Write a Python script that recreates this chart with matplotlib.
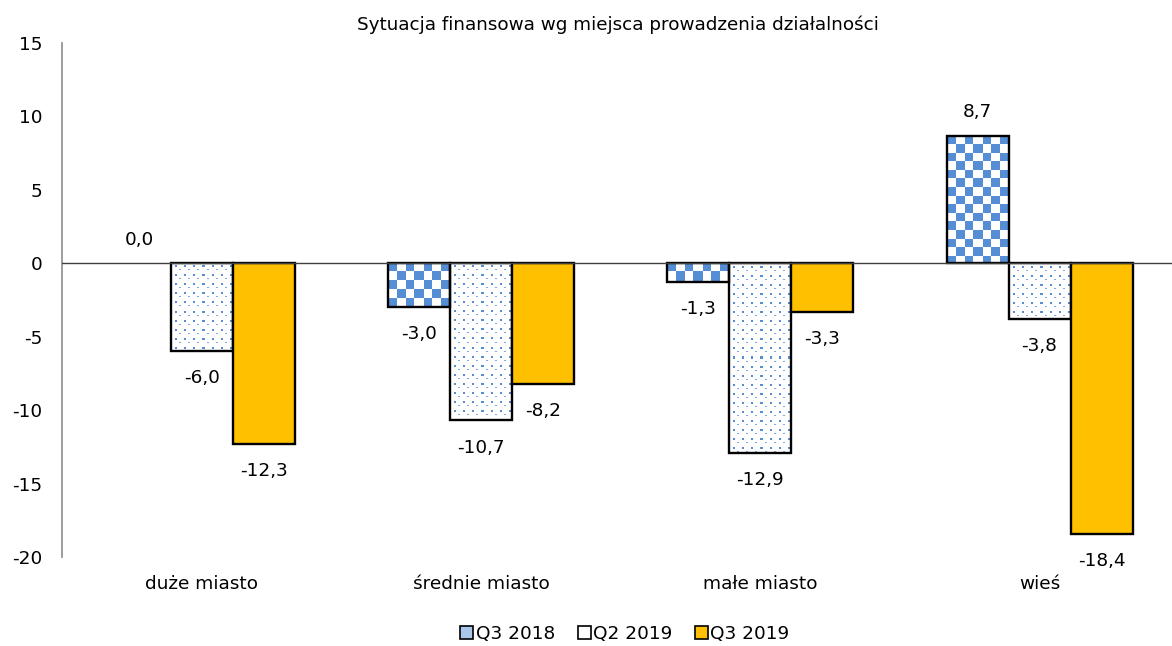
import numpy as np
import matplotlib
matplotlib.use('Agg')
import matplotlib.pyplot as plt
from matplotlib.patches import Patch

title = 'Sytuacja finansowa wg miejsca prowadzenia działalności'
categories = ['duże miasto', 'średnie miasto', 'małe miasto', 'wieś']
series = ['Q3 2018', 'Q2 2019', 'Q3 2019']
q3_2018 = [0.0, -3.0, -1.3, 8.7]
q2_2019 = [-6.0, -10.7, -12.9, -3.8]
q3_2019 = [-12.3, -8.2, -3.3, -18.4]

BLUE = (0x55/255, 0x8e/255, 0xd5/255)
GOLD = '#FFC000'
FS = 13.3


def checker(h, w, cell=8.6):
    yy, xx = np.mgrid[0:h, 0:w]
    m = ((xx // cell).astype(int) + (yy // cell).astype(int)) % 2 == 0
    img = np.ones((h, w, 3))
    img[m] = BLUE
    return img


def dots(h, w, step=9):
    img = np.ones((h, w, 3))
    light = tuple(1 - 0.75 * (1 - c) for c in BLUE)
    for y in range(3, h - 1, step):
        for x in range(4, w - 1, step):
            img[y:y+2, x:x+2] = BLUE
    for y in range(3 + step // 2, h - 1, step):
        for x in range(4 + step // 2, w - 1, step):
            img[y:y+1, x:x+2] = light
    return img


def main():
    plt.rcParams['font.family'] = ['DejaVu Sans']
    plt.rcParams['axes.unicode_minus'] = False
    fig = plt.figure(figsize=(11.72, 6.46), dpi=100)
    ax = fig.add_axes([62/1172, 1 - 557/646, 1 - 62/1172, (557 - 43)/646])

    x = np.arange(len(categories))
    w = 0.222
    data = [q3_2018, q2_2019, q3_2019]
    ax.set_xlim(-0.5, -0.5 + 1110/279.3)
    ax.set_ylim(-20, 15)

    fig.canvas.draw()
    for i, vals in enumerate(data):
        lws = [0 if v == 0 else 1.7 for v in vals]
        bars = ax.bar(x + (i - 1) * w, vals, w, facecolor='none' if i < 2 else GOLD,
                      edgecolor='black', linewidth=lws, zorder=3)
        if i < 2:
            for b in bars:
                x0, y0 = b.get_x(), b.get_y()
                x1, y1 = x0 + b.get_width(), y0 + b.get_height()
                if y0 == y1:
                    continue
                p0 = ax.transData.transform((x0, min(y0, y1)))
                p1 = ax.transData.transform((x1, max(y0, y1)))
                pw, ph = int(round(p1[0] - p0[0])), int(round(p1[1] - p0[1]))
                img = checker(ph, pw) if i == 0 else dots(ph, pw)
                ax.imshow(img, extent=(x0, x1, min(y0, y1), max(y0, y1)),
                          origin='upper', interpolation='nearest', aspect='auto', zorder=2)
        for xi, v in zip(x + (i - 1) * w, vals):
            off = 17 if v >= 0 else -19.5
            ax.annotate(f'{v:.1f}'.replace('.', ','), (xi, v), xytext=(0, off),
                        textcoords='offset points', ha='center', va='center', fontsize=FS)

    ax.set_xlim(-0.5, -0.5 + 1110/279.3)
    ax.set_ylim(-20, 15)
    ax.set_yticks(np.arange(-20, 16, 5))
    ax.set_xticks(x)
    ax.set_xticklabels(categories)
    ax.tick_params(axis='both', length=0, labelsize=FS)
    ax.tick_params(axis='x', pad=13)
    ax.tick_params(axis='y', pad=14)
    for s in ['top', 'right', 'bottom']:
        ax.spines[s].set_visible(False)
    ax.spines['left'].set_color('#8c8c8c')
    ax.spines['left'].set_linewidth(1.2)
    ax.axhline(0, color='#404040', linewidth=1.0, zorder=4)

    fig.text(618/1172, 1 - 25/646, title, ha='center', va='center', fontsize=13.2)

    handles = [Patch(facecolor='#a9c6ec', edgecolor='black', linewidth=1.2),
               Patch(facecolor='white', edgecolor='black', linewidth=1.2),
               Patch(facecolor=GOLD, edgecolor='black', linewidth=1.2)]
    fig.legend(handles, series, loc='center', bbox_to_anchor=(625/1172, 1 - 634/646), ncol=3,
               frameon=False, fontsize=FS, handlelength=0.7, handleheight=0.7,
               handletextpad=0.15, columnspacing=1.2)

    fig.savefig('out.png', dpi=100)


if __name__ == '__main__':
    main()
